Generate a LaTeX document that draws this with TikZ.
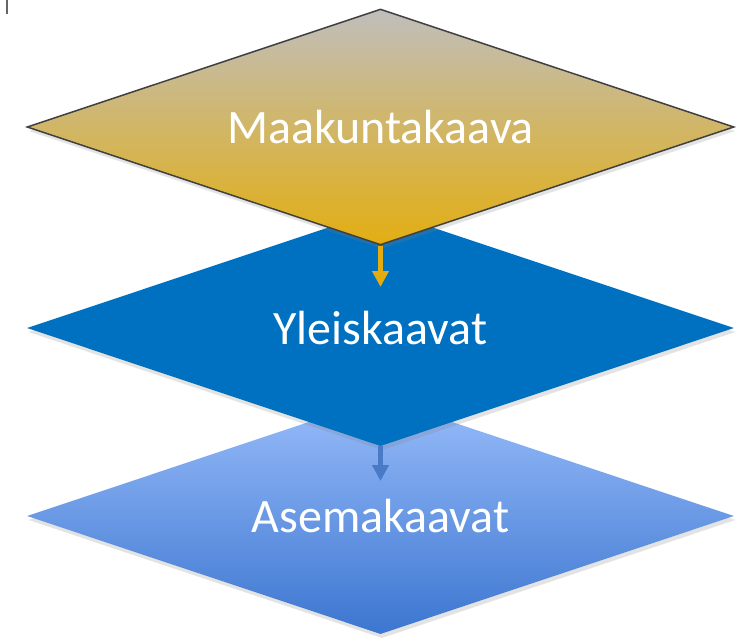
\documentclass[tikz,border=0pt]{standalone}
\usepackage{fontspec}
\setmainfont{Carlito}
\usetikzlibrary{shapes.geometric,shadows,arrows.meta}
\definecolor{topgrey}{RGB}{192,190,188}
\definecolor{tan}{RGB}{212,186,132}
\definecolor{gold}{RGB}{226,174,18}
\definecolor{midblue}{RGB}{0,112,192}
\definecolor{lightblue}{RGB}{152,188,250}
\definecolor{deepblue}{RGB}{60,118,208}
\definecolor{arrowblue}{RGB}{72,122,198}
\definecolor{outline}{RGB}{64,64,64}
\begin{document}
\begin{tikzpicture}[x=1pt, y=-1pt,
    layer/.style={diamond, aspect=3, inner sep=0pt, minimum width=707pt, minimum height=236pt,
      text=white, font=\fontsize{48}{52}\selectfont,
      drop shadow={shadow xshift=1.5pt, shadow yshift=-4pt, opacity=0.22}},
    flow/.style={line width=5pt, -{Triangle[width=16pt,length=16pt]}}]
  \useasboundingbox (0,0) rectangle (744,638);
  \draw[line width=2.5pt, outline!80] (7,0) -- (7,14);
  \node[layer, top color=lightblue, bottom color=deepblue] (asema) at (380.5,516) {Asemakaavat};
  \node[layer, fill=midblue] (yleis) at (380.5,328) {Yleiskaavat};
  \coordinate (bluetip) at (380.5,481);
  \draw[flow, arrowblue] (yleis.south) -- (bluetip);
  \node[layer, draw=outline, line width=1.5pt, top color=topgrey, middle color=tan,
    bottom color=gold] (maakunta) at (380.5,127) {Maakuntakaava};
  \coordinate (goldtip) at (380.5,287);
  \draw[flow, gold!95!orange] (maakunta.south) -- (goldtip);
\end{tikzpicture}
\end{document}
